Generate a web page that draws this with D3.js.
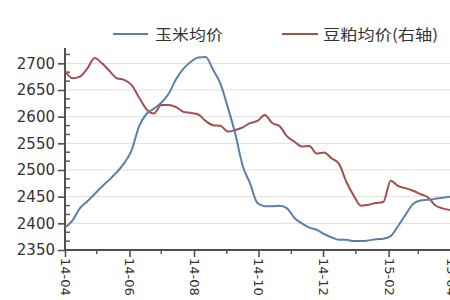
<!DOCTYPE html>
<html><head><meta charset="utf-8">
<script src="https://cdn.jsdelivr.net/npm/d3@7"></script>
<style>
html,body{margin:0;padding:0;background:#fff;}
svg{display:block;}
</style></head>
<body>
<svg id="chart" width="450" height="300"></svg>
<script>
// weekly observation dates
const dates = ["2014-04-01","2014-04-08","2014-04-15","2014-04-22","2014-04-29","2014-05-06","2014-05-13","2014-05-20","2014-05-27","2014-06-03","2014-06-10","2014-06-17","2014-06-24","2014-07-01","2014-07-08","2014-07-15","2014-07-22","2014-07-29","2014-08-05","2014-08-12","2014-08-19","2014-08-26","2014-09-02","2014-09-09","2014-09-16","2014-09-23","2014-09-30","2014-10-07","2014-10-14","2014-10-21","2014-10-28","2014-11-04","2014-11-11","2014-11-18","2014-11-25","2014-12-02","2014-12-09","2014-12-16","2014-12-23","2014-12-30","2015-01-06","2015-01-13","2015-01-20","2015-01-27","2015-02-03","2015-02-10","2015-02-17","2015-02-24","2015-03-03","2015-03-10","2015-03-17","2015-03-24","2015-03-31"];
// 玉米均价 (left axis)
const cornValues = [2392,2405,2428,2441,2455,2469,2482,2496,2513,2537,2582,2605,2615,2626,2643,2670,2690,2703,2711,2712,2688,2662,2617,2568,2508,2475,2438,2432,2432,2433,2428,2410,2400,2392,2388,2380,2374,2369,2369,2367,2367,2368,2370,2371,2376,2395,2416,2436,2443,2444,2446,2448,2450];
// 豆粕均价 (right axis; right scale cropped off, read in left-axis equivalents)
const mealValues = [2686,2672,2675,2690,2710,2700,2686,2672,2669,2659,2636,2614,2606,2622,2622,2618,2609,2607,2604,2592,2584,2583,2572,2575,2580,2588,2592,2603,2588,2582,2563,2553,2544,2545,2531,2533,2522,2512,2478,2452,2433,2435,2438,2440,2480,2470,2466,2461,2455,2449,2434,2428,2425];
const seriesNames = ["玉米均价","豆粕均价(右轴)"];
const yTicks = [2350,2400,2450,2500,2550,2600,2650,2700];
const xTickDates = ["2014-04-01","2014-06-01","2014-08-01","2014-10-01","2014-12-01","2015-02-01","2015-04-01"];
const xMinorDates = ["2014-05-01","2014-07-01","2014-09-01","2014-11-01","2015-01-01","2015-03-01"];

const parse = d3.timeParse("%Y-%m-%d");
const svg = d3.select("#chart");
const L = 65, R = 451, T = 50, B = 250;

const x = d3.scaleTime().domain([parse("2014-04-01"), parse("2015-04-01")]).range([L, R]);
const y = d3.scaleLinear().domain([2350, 2725]).range([B, T]);
const y2 = d3.scaleLinear().domain([2350, 2725]).range([B, T]);

// gridlines
svg.append("g").selectAll("line").data(yTicks.filter(v => v > 2350)).join("line")
  .attr("x1", L).attr("x2", 450).attr("y1", d => y(d)).attr("y2", d => y(d))
  .attr("stroke", "#dedede").attr("stroke-width", 1);

const axisColor = "#505050";
const font = "DejaVu Sans, Verdana, sans-serif";

// y axis major (outside, labelled)
const yAxis = svg.append("g").attr("transform", `translate(${L},0)`)
  .call(d3.axisLeft(y).tickValues(yTicks).tickSize(7).tickPadding(3).tickFormat(d3.format("d")));
yAxis.select(".domain").remove();
yAxis.selectAll("line").attr("stroke", axisColor).attr("stroke-width", 1.6);
yAxis.selectAll("text").attr("fill", "#333").style("font-family", font).style("font-size", "15px");

// y minor ticks (inside)
const yMinor = d3.range(0, 23).map(i => 2350 + i * 50 / 3).filter(v => v <= 2725 && (Math.round(v) % 50 !== 0));
svg.append("g").selectAll("line").data(yMinor).join("line")
  .attr("x1", L).attr("x2", L + 5).attr("y1", d => y(d)).attr("y2", d => y(d))
  .attr("stroke", axisColor).attr("stroke-width", 1.4);

// x axis
const xAxis = svg.append("g").attr("transform", `translate(0,${B})`)
  .call(d3.axisBottom(x).tickValues(xTickDates.map(parse)).tickSize(7).tickFormat(d3.timeFormat("%y-%m")));
xAxis.select(".domain").remove();
xAxis.selectAll("line").attr("stroke", axisColor).attr("stroke-width", 1.6);
xAxis.selectAll("text")
  .attr("fill", "#333").style("font-family", font).style("font-size", "13px")
  .attr("text-anchor", "start").attr("x", 0).attr("y", 0).attr("dy", "0.35em")
  .attr("transform", "translate(0,8) rotate(90)");
svg.append("g").selectAll("line").data(xMinorDates.map(parse)).join("line")
  .attr("x1", d => x(d)).attr("x2", d => x(d)).attr("y1", B).attr("y2", B + 4)
  .attr("stroke", axisColor).attr("stroke-width", 1.4);

// axis lines
svg.append("line").attr("x1", L).attr("x2", L).attr("y1", 48).attr("y2", B + 1)
  .attr("stroke", axisColor).attr("stroke-width", 2);
svg.append("line").attr("x1", L - 1).attr("x2", 450).attr("y1", B).attr("y2", B)
  .attr("stroke", axisColor).attr("stroke-width", 2);

// lines
const blue = "#5b80ad", red = "#a3504f";
const cornData = dates.map((d, i) => ({date: parse(d), v: cornValues[i]}));
const mealData = dates.map((d, i) => ({date: parse(d), v: mealValues[i]}));
const lineL = d3.line().x(d => x(d.date)).y(d => y(d.v)).curve(d3.curveMonotoneX);
const lineR = d3.line().x(d => x(d.date)).y(d => y2(d.v)).curve(d3.curveMonotoneX);
svg.append("path").datum(mealData).attr("d", lineR).attr("fill", "none")
  .attr("stroke", red).attr("stroke-width", 2).attr("stroke-linejoin", "round");
svg.append("path").datum(cornData).attr("d", lineL).attr("fill", "none")
  .attr("stroke", blue).attr("stroke-width", 2).attr("stroke-linejoin", "round");

// legend
const legend = [
  {name: seriesNames[0], color: blue, x1: 113, x2: 148, tx: 155, tl: 68},
  {name: seriesNames[1], color: red, x1: 282, x2: 318, tx: 323, tl: 115}
];
const lg = svg.append("g");
lg.selectAll("line").data(legend).join("line")
  .attr("x1", d => d.x1).attr("x2", d => d.x2).attr("y1", 34).attr("y2", 34)
  .attr("stroke", d => d.color).attr("stroke-width", 2);
lg.selectAll("text").data(legend).join("text")
  .attr("x", d => d.tx).attr("y", 40)
  .attr("textLength", d => d.tl).attr("lengthAdjust", "spacingAndGlyphs")
  .attr("fill", "#333").style("font-family", "Noto Sans CJK SC, sans-serif").style("font-size", "15px")
  .text(d => d.name);
</script>
</body></html>
